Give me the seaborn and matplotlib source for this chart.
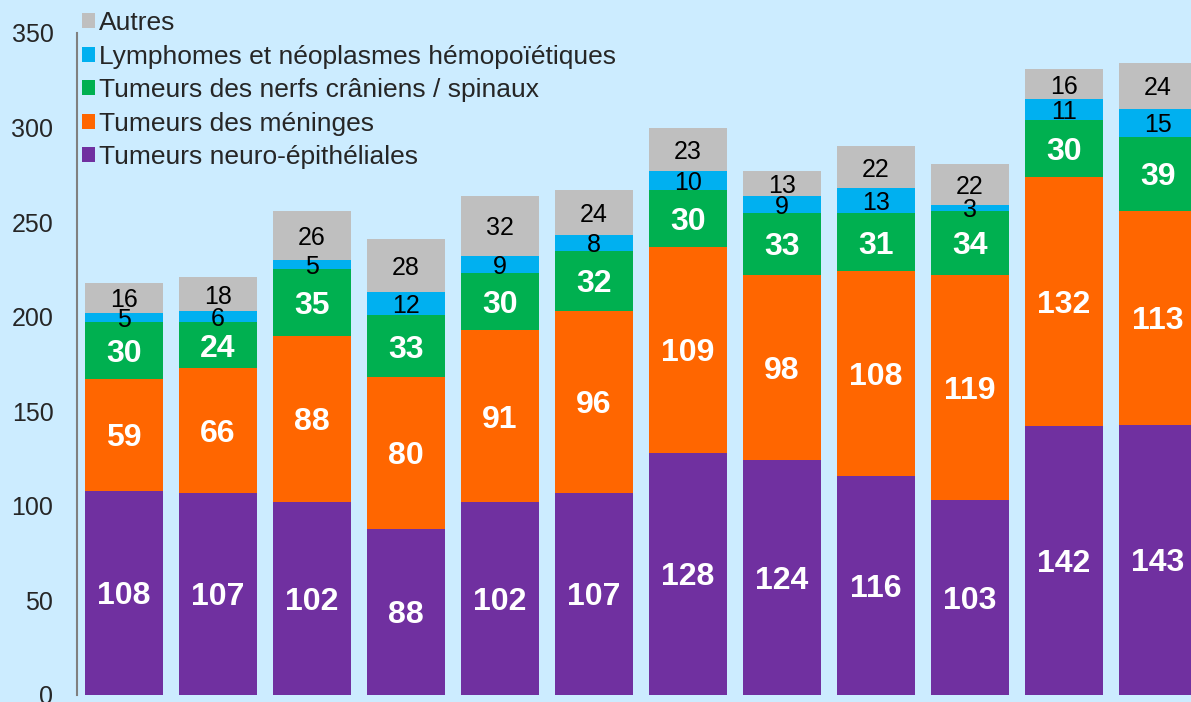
import numpy as np
import pandas as pd
import matplotlib
matplotlib.use("Agg")
import matplotlib.pyplot as plt
from matplotlib.patches import Patch
import seaborn as sns

# Données (empilées de bas en haut)
categories = [str(i) for i in range(1, 13)]
neuro = [108, 107, 102, 88, 102, 107, 128, 124, 116, 103, 142, 143]
meninges = [59, 66, 88, 80, 91, 96, 109, 98, 108, 119, 132, 113]
nerfs = [30, 24, 35, 33, 30, 32, 30, 33, 31, 34, 30, 39]
lymphomes = [5, 6, 5, 12, 9, 8, 10, 9, 13, 3, 11, 15]
autres = [16, 18, 26, 28, 32, 24, 23, 13, 22, 22, 16, 24]

series = ["Tumeurs neuro-épithéliales", "Tumeurs des méninges",
          "Tumeurs des nerfs crâniens / spinaux",
          "Lymphomes et néoplasmes hémopoïétiques", "Autres"]
couleurs = ["#7030A0", "#FF6600", "#00B050", "#00B0F0", "#BFBFBF"]
valeurs = [neuro, meninges, nerfs, lymphomes, autres]

fond = "#CCECFF"
sns.set_style("white")
plt.rcParams["font.family"] = ["Liberation Sans", "DejaVu Sans"]

fig = plt.figure(figsize=(11.91, 7.02), dpi=100, facecolor=fond)
ax = fig.add_axes([77 / 1191, 7 / 702, 1128 / 1191, 662 / 702])
ax.set_facecolor(fond)

df = pd.DataFrame({"cat": categories})
cumul = np.cumsum(np.array(valeurs), axis=0)

# barres empilées : on dessine les cumuls du haut vers le bas
for k in range(len(series) - 1, -1, -1):
    df["h"] = cumul[k]
    sns.barplot(data=df, x="cat", y="h", color=couleurs[k], width=0.83,
                saturation=1, linewidth=0, ax=ax)

# étiquettes
for k in range(len(series)):
    bas = cumul[k] - np.array(valeurs[k])
    for i, v in enumerate(valeurs[k]):
        y = bas[i] + v / 2
        if k < 3:
            ax.text(i, y, str(v), ha="center", va="center_baseline",
                    color="white", fontsize=23, fontweight="bold")
        else:
            ax.text(i, y, str(v), ha="center", va="center_baseline",
                    color="black", fontsize=18)

ax.set_xlim(-0.5, 11.5)
ax.set_ylim(0, 350)
ax.set_yticks(range(0, 351, 50))
ax.set_xticks([])
ax.set_xlabel("")
ax.set_ylabel("")
ax.tick_params(axis="y", labelsize=18, length=6, width=1.5, color="#808080",
               direction="out", pad=11)
for s in ["top", "right", "bottom"]:
    ax.spines[s].set_visible(False)
ax.spines["left"].set_color("#808080")
ax.spines["left"].set_linewidth(1.5)

handles = [Patch(facecolor=couleurs[k], edgecolor="none", label=series[k])
           for k in range(len(series) - 1, -1, -1)]
fig.legend(handles=handles, loc="upper left", bbox_to_anchor=(0.069, 0.984),
           frameon=False, fontsize=19, handlelength=0.5, handleheight=0.5,
           handletextpad=0.12, labelspacing=0.36, borderpad=0, borderaxespad=0)

fig.savefig("out.png", dpi=100, facecolor=fond)
plt.close()
